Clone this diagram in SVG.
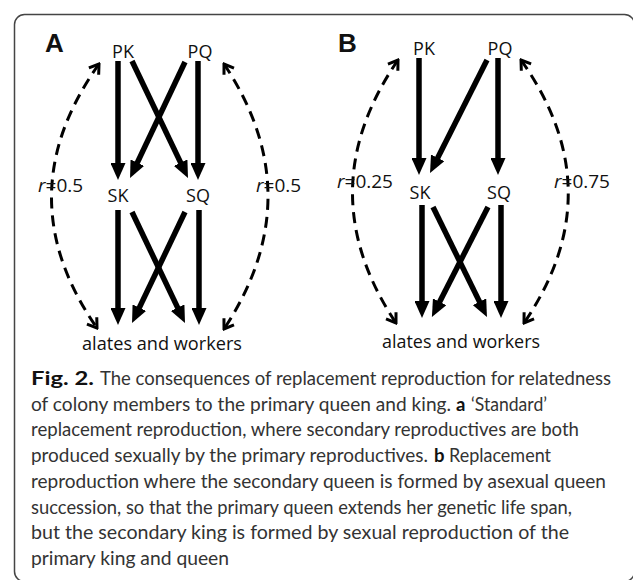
<svg xmlns="http://www.w3.org/2000/svg" width="633" height="580" viewBox="0 0 633 580">
<style>
.lbl{font-family:"Open Sans","Liberation Sans",sans-serif;font-size:18px;fill:#111;text-anchor:middle}
.pan{font-family:"Liberation Sans",Arial,sans-serif;font-size:26px;font-weight:bold;fill:#111}
.r{font-family:"Open Sans","Liberation Sans",sans-serif;font-size:19px;fill:#111}
.cap{font-family:Lato,"Open Sans",sans-serif;font-size:18.5px;fill:#333}
.b{font-weight:bold;fill:#111}
.sol{stroke:#000;stroke-width:5.5;fill:none;marker-end:url(#solid)}
.dash{stroke:#000;stroke-width:3;fill:none;stroke-dasharray:11 7;marker-start:url(#open);marker-end:url(#open)}
</style>
<defs>
<marker id="solid" markerUnits="userSpaceOnUse" viewBox="0 0 17 15" markerWidth="17" markerHeight="15" refX="8" refY="7.5" orient="auto"><path d="M0,0 L17,7.5 L0,15 Z" fill="#000"/></marker>
<marker id="open" markerUnits="userSpaceOnUse" viewBox="-12 -8 14 16" markerWidth="14" markerHeight="16" refX="0" refY="0" orient="auto-start-reverse"><path d="M-9,-6 L0,0 L-9,6" fill="none" stroke="#000" stroke-width="3"/></marker>
</defs>
<rect x="14.5" y="14.5" width="620" height="567" rx="10" fill="none" stroke="#444" stroke-width="1.5"/>

<g id="connectors">
<path class="sol" d="M118,61 L118,171"/>
<path class="sol" d="M132,61 L184.1,169.9"/>
<path class="sol" d="M185,62 L133.9,169.9"/>
<path class="sol" d="M198,61 L198,171"/>
<path class="sol" d="M118,210 L118,316"/>
<path class="sol" d="M132,212 L181.1,314.9"/>
<path class="sol" d="M185,212 L135.9,314.9"/>
<path class="sol" d="M199,210 L199,316"/>
<path class="dash" d="M99,64 Q5,196 97,328"/>
<path class="dash" d="M224,64 Q312,196 224,329"/>

<path class="sol" d="M419,58 L419,166"/>
<path class="sol" d="M487,60 L434.1,165"/>
<path class="sol" d="M498,58 L498,166"/>
<path class="sol" d="M422,205 L422,309"/>
<path class="sol" d="M433,207 L483,308.9"/>
<path class="sol" d="M488,207 L436,308.9"/>
<path class="sol" d="M501,205 L501,309"/>
<path class="dash" d="M398,60 Q308,191 396,323"/>
<path class="dash" d="M521,60 Q614,191 524,323"/>
</g>

<g id="panelA">
<text class="pan" x="45" y="52">A</text>
<g id="A-PK"><text class="lbl" x="123" y="58">PK</text></g>
<g id="A-PQ"><text class="lbl" x="200" y="58">PQ</text></g>
<g id="A-SK"><text class="lbl" x="118" y="202">SK</text></g>
<g id="A-SQ"><text class="lbl" x="198" y="202">SQ</text></g>
<g id="A-AW"><text class="lbl" x="162" y="350" textLength="160" lengthAdjust="spacingAndGlyphs">alates and workers</text></g>
<g id="A-rL"><text class="r" x="38" y="192"><tspan font-style="italic">r</tspan>=0.5</text></g>
<g id="A-rR"><text class="r" x="256" y="192"><tspan font-style="italic">r</tspan>=0.5</text></g>
</g>

<g id="panelB">
<text class="pan" x="338" y="52">B</text>
<g id="B-PK"><text class="lbl" x="424" y="55">PK</text></g>
<g id="B-PQ"><text class="lbl" x="500" y="55">PQ</text></g>
<g id="B-SK"><text class="lbl" x="420" y="199">SK</text></g>
<g id="B-SQ"><text class="lbl" x="499" y="199">SQ</text></g>
<g id="B-AW"><text class="lbl" x="461" y="348" textLength="158" lengthAdjust="spacingAndGlyphs">alates and workers</text></g>
<g id="B-rL"><text class="r" x="337" y="188"><tspan font-style="italic">r</tspan>=0.25</text></g>
<g id="B-rR"><text class="r" x="554" y="188"><tspan font-style="italic">r</tspan>=0.75</text></g>
</g>

<g id="caption">
<text class="cap b" x="31" y="385" textLength="63" lengthAdjust="spacingAndGlyphs">Fig. 2.</text>
<text class="cap" x="100" y="385" textLength="511" lengthAdjust="spacingAndGlyphs">The consequences of replacement reproduction for relatedness</text>
<text class="cap" x="31" y="411" textLength="420" lengthAdjust="spacingAndGlyphs">of colony members to the primary queen and king.</text>
<text class="cap b" x="456" y="411">a</text>
<text class="cap" x="471" y="411" textLength="76" lengthAdjust="spacingAndGlyphs">‘Standard’</text>
<text class="cap" x="31" y="436" textLength="548" lengthAdjust="spacingAndGlyphs">replacement reproduction, where secondary reproductives are both</text>
<text class="cap" x="31" y="462" textLength="397" lengthAdjust="spacingAndGlyphs">produced sexually by the primary reproductives.</text>
<text class="cap b" x="434" y="462">b</text>
<text class="cap" x="449" y="462" textLength="102" lengthAdjust="spacingAndGlyphs">Replacement</text>
<text class="cap" x="31" y="488" textLength="575" lengthAdjust="spacingAndGlyphs">reproduction where the secondary queen is formed by asexual queen</text>
<text class="cap" x="31" y="514" textLength="541" lengthAdjust="spacingAndGlyphs">succession, so that the primary queen extends her genetic life span,</text>
<text class="cap" x="31" y="539" textLength="538" lengthAdjust="spacingAndGlyphs">but the secondary king is formed by sexual reproduction of the</text>
<text class="cap" x="31" y="565" textLength="198" lengthAdjust="spacingAndGlyphs">primary king and queen</text>
</g>
</svg>
